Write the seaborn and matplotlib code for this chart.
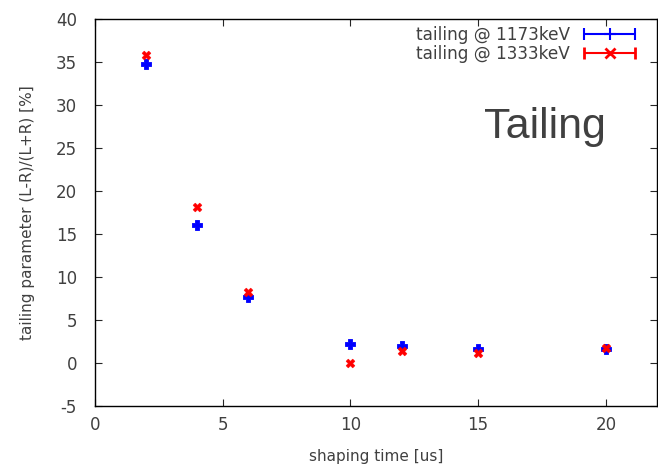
import numpy as np
import pandas as pd
import matplotlib
matplotlib.use("Agg")
import matplotlib.pyplot as plt
from matplotlib.legend_handler import HandlerErrorbar
import seaborn as sns

shaping_time = [2, 4, 6, 10, 12, 15, 20]
tail_1173 = [34.8, 16.0, 7.7, 2.2, 2.0, 1.6, 1.6]
tail_1333 = [35.8, 18.1, 8.2, 0.0, 1.4, 1.2, 1.7]
series_names = ["tailing @ 1173keV", "tailing @ 1333keV"]
x_ticks = [0, 5, 10, 15, 20]
y_ticks = [-5, 0, 5, 10, 15, 20, 25, 30, 35, 40]

sns.set_style("ticks")
plt.rcParams['font.family'] = ['DejaVu Sans']
plt.rcParams['axes.unicode_minus'] = False
txt = '#404040'

df = pd.DataFrame({
    "t": shaping_time * 2,
    "v": tail_1173 + tail_1333,
    "s": [series_names[0]] * len(shaping_time) + [series_names[1]] * len(shaping_time),
})

fig = plt.figure(figsize=(6.58, 4.65), dpi=100)
ax = fig.add_axes([95/658, 1 - 406/465, (657 - 95)/658, (406 - 19)/465])

d1 = df[df.s == series_names[0]]
d2 = df[df.s == series_names[1]]
sns.scatterplot(data=d1, x="t", y="v", ax=ax, marker='P', s=44, color='#0000ff',
                edgecolor='#0000ff', linewidth=0.6, legend=False, zorder=3)
sns.scatterplot(data=d2, x="t", y="v", ax=ax, marker='X', s=40, color='#ff0000',
                edgecolor='#ff0000', linewidth=0.4, legend=False, zorder=4)

h1 = ax.errorbar([np.nan], [np.nan], xerr=[1], fmt='+', color='#0000ff', ms=9, mew=1.5,
                 capsize=4, elinewidth=1.5, capthick=1.5)
h2 = ax.errorbar([np.nan], [np.nan], xerr=[1], fmt='x', color='#ff0000', ms=7, mew=2,
                 capsize=4, elinewidth=1.5, capthick=1.5)
hm = HandlerErrorbar(xerr_size=1.5)
leg = ax.legend([h1, h2], series_names, loc='upper right', markerfirst=False, frameon=False,
                fontsize=12.2, handlelength=3.1, handletextpad=0.8, labelspacing=0.05,
                borderaxespad=0.0, bbox_to_anchor=(0.975, 1.0),
                handler_map={h1: hm, h2: hm})
for t in leg.get_texts():
    t.set_color(txt)

ax.text(17.6, 27.4, "Tailing", fontsize=31, color=txt, ha='center', va='center',
        family=['Liberation Sans', 'DejaVu Sans'])

ax.set_xlim(0, 22)
ax.set_ylim(-5, 40)
ax.set_xticks(x_ticks)
ax.set_yticks(y_ticks)
ax.tick_params(direction='in', length=5, width=0.8, top=True, right=True,
               labelsize=12, labelcolor=txt)
ax.tick_params(axis='x', pad=7)
ax.tick_params(axis='y', pad=13)
for sp in ax.spines.values():
    sp.set_visible(True)
    sp.set_color('#000000')
    sp.set_linewidth(1.0)
ax.set_xlabel("shaping time [us]", fontsize=11, color=txt, labelpad=11)
ax.set_ylabel("tailing parameter (L-R)/(L+R) [%]", fontsize=11, color=txt, labelpad=15)

fig.savefig("out.png", dpi=100)
